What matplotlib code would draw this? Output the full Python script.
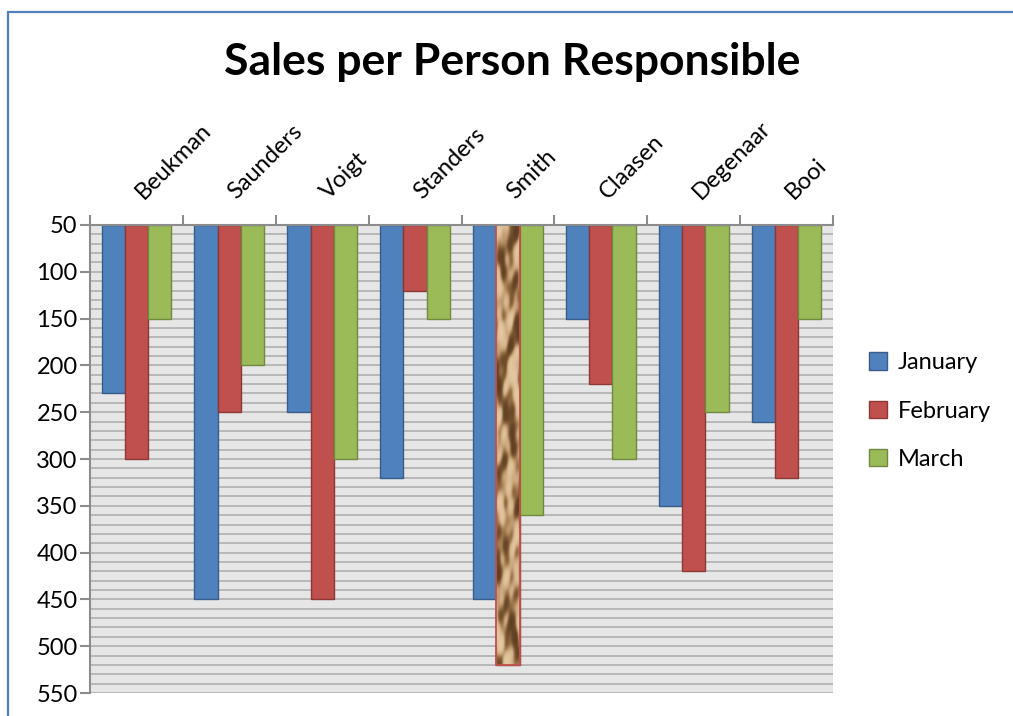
import numpy as np
import matplotlib
matplotlib.use("Agg")
import matplotlib.pyplot as plt
from matplotlib.patches import Rectangle, Patch
from matplotlib.colors import LinearSegmentedColormap

plt.rcParams['font.family'] = ['Lato', 'DejaVu Sans']

persons = ["Beukman", "Saunders", "Voigt", "Standers", "Smith", "Claasen", "Degenaar", "Booi"]
january = [230, 450, 250, 320, 450, 150, 350, 260]
february = [300, 250, 450, 120, 520, 220, 420, 320]
march = [150, 200, 300, 150, 360, 300, 250, 150]
series_names = ["January", "February", "March"]
y_ticks = [50, 100, 150, 200, 250, 300, 350, 400, 450, 500, 550]
base = 50

faces = ["#4F81BD", "#C0504D", "#9BBB59"]
edges = ["#385D8A", "#8C3836", "#71893F"]

fig = plt.figure(figsize=(10.13, 7.16), dpi=100)
ax = fig.add_axes([90/1013, 1-693/716, 743/1013, (693-225)/716])

# frame border of the chart object
fig.patches.append(Rectangle((8/1013, -0.1), 1.2, (716-12)/716 + 0.1, transform=fig.transFigure,
                             fill=False, edgecolor="#4F81BD", linewidth=1.6, zorder=0))

ax.set_facecolor("#E6E6E6")
for v in range(60, 551, 10):
    ax.axhline(v, color="#B4B4B4", linewidth=1.3, zorder=1)

n = len(persons)
x = np.arange(n)
w = 0.25
data = [january, february, march]
bars_all = []
for i, vals in enumerate(data):
    heights = [v - base for v in vals]
    bars = ax.bar(x + (i - 1) * w, heights, width=w, bottom=base, color=faces[i],
                  edgecolor=edges[i], linewidth=1.0, zorder=3)
    bars_all.append(bars)

# textured (stone-like) bar for Smith February
tb = bars_all[1][4]
tb.set_facecolor("#B8916A")
xx, yy = np.meshgrid(np.linspace(0, 1, 40), np.linspace(0, 1, 400))
tex = (np.sin(xx * 5 + np.sin(yy * 23) * 2.2 + yy * 7)
       + 0.8 * np.sin(yy * 37 + np.sin(xx * 6 + yy * 11) * 2.5)
       + 0.4 * np.sin(xx * 13 - yy * 61 + 0.7)
       + 0.25 * np.sin(yy * 131 + xx * 9))
tex = np.tanh(tex * 0.9)
cmap = LinearSegmentedColormap.from_list("stone", ["#5E3F22", "#9A7248", "#C9A47A", "#E3C8A2"])
bx, bw = tb.get_x(), tb.get_width()
y0, y1 = base, base + tb.get_height()
im = ax.imshow(tex, extent=[bx, bx + bw, y1, y0], cmap=cmap, aspect="auto", zorder=3.5,
               interpolation="bilinear")
im.set_clip_path(tb)
ax.add_patch(Rectangle((bx, y0), bw, y1 - y0, fill=False, edgecolor="#C0504D", linewidth=1.3, zorder=4))

ax.set_xlim(-0.5, n - 0.5)
ax.set_ylim(550, 50)
ax.set_yticks(y_ticks)
ax.set_yticklabels([str(t) for t in y_ticks], fontsize=17)
ax.tick_params(axis="y", length=7, width=1.5, color="#8C8C8C", pad=2)

ax.xaxis.tick_top()
ax.set_xticks(np.arange(-0.5, n, 1.0))
ax.set_xticklabels([])
ax.tick_params(axis="x", length=7, width=1.5, color="#8C8C8C", top=True, bottom=False)
for i, name in enumerate(persons):
    ax.annotate(name, xy=(i, 1.0), xycoords=("data", "axes fraction"), xytext=(5, 18),
                textcoords="offset points", rotation=45, rotation_mode="anchor",
                ha="left", va="baseline", fontsize=17)

for s in ["right", "bottom"]:
    ax.spines[s].set_visible(False)
for s in ["left", "top"]:
    ax.spines[s].set_color("#8C8C8C")
    ax.spines[s].set_linewidth(1.5)
    ax.spines[s].set_zorder(5)

fig.text(512/1013, 1-62/716, "Sales per Person Responsible", ha="center", va="center",
         fontsize=32, fontweight="bold")

handles = [Patch(facecolor=faces[i], edgecolor=edges[i], linewidth=1.0) for i in range(3)]
fig.legend(handles, series_names, loc="center left", bbox_to_anchor=(848/1013, 1-411/716),
           frameon=False, fontsize=17, handlelength=0.75, handleheight=0.75, labelspacing=1.15,
           handletextpad=0.45)

fig.savefig("out.png", dpi=100)
